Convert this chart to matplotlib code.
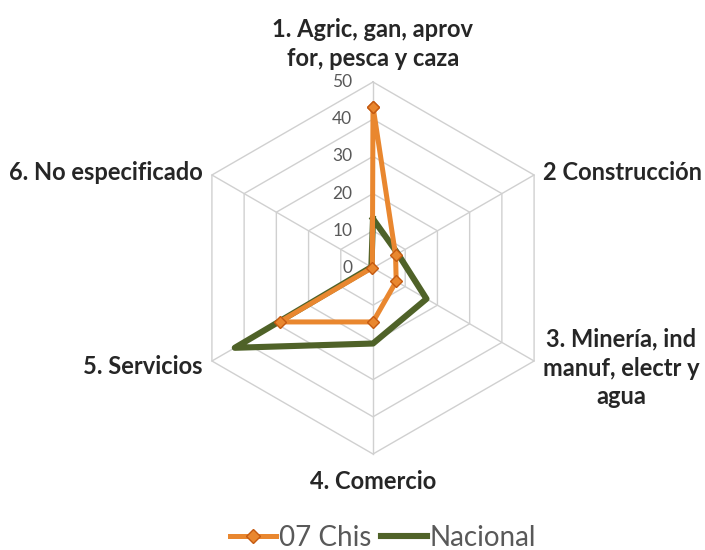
import numpy as np
import matplotlib.pyplot as plt
from matplotlib.lines import Line2D

# Datos (porcentaje por sector)
categorias = ["1. Agric, gan, aprov\nfor, pesca y caza", "2 Construcción",
              "3. Minería, ind\nmanuf, electr y\nagua", "4. Comercio",
              "5. Servicios", "6. No especificado"]
chis = [43.4, 7.0, 7.2, 14.5, 29.0, 0.2]
nacional = [13.2, 7.7, 16.6, 20.3, 42.9, 0.5]
niveles = [0, 10, 20, 30, 40, 50]

color_chis = "#E9872F"
color_nac = "#4F6228"
gris = "#D0D0D0"

plt.rcParams['font.family'] = ['Lato', 'DejaVu Sans']

fig = plt.figure(figsize=(7.05, 5.5), dpi=100)
# centro en (373, 268) px, radio 50 -> 186 px
escala = 186 / 50
ancho = 120 * escala
ax = fig.add_axes([(373 - ancho / 2) / 705, (282 - ancho / 2) / 550, ancho / 705, ancho / 550])
ax.set_xlim(-60, 60)
ax.set_ylim(-60, 60)
ax.axis('off')

n = len(categorias)
angulos = np.pi / 2 - np.arange(n) * 2 * np.pi / n
ux, uy = np.cos(angulos), np.sin(angulos)

def cerrar(a):
    return np.append(a, a[0])

# rejilla hexagonal
for r in niveles[1:]:
    ax.plot(cerrar(r * ux), cerrar(r * uy), color=gris, lw=1, zorder=1)
for i in range(n):
    ax.plot([0, 50 * ux[i]], [0, 50 * uy[i]], color=gris, lw=1, zorder=1)

# etiquetas del eje radial
for r in niveles:
    ax.text(-5.6, r, str(r), ha='right', va='center', fontsize=12.5, color='#595959')

# series
v = np.array(chis)
ax.plot(cerrar(v * ux), cerrar(v * uy), color=color_chis, lw=3.6, marker='D', ms=6.5,
        mfc=color_chis, mec='#C55A11', zorder=3, solid_joinstyle='round')
v = np.array(nacional)
ax.plot(cerrar(v * ux), cerrar(v * uy), color=color_nac, lw=4.4, zorder=2, solid_joinstyle='round')

# etiquetas de categorías
kw = dict(fontsize=17, fontweight='bold', color='#262626', linespacing=1.3, clip_on=False)
ax.text(0, 60.2, categorias[0], ha='center', va='center', **kw)
ax.text(45.7, 25.8, categorias[1], ha='left', va='center', **kw)
ax.text(66.7, -26.9, categorias[2], ha='center', va='center', **kw)
ax.text(0, -57.5, categorias[3], ha='center', va='center', **kw)
ax.text(-45.7, -26.6, categorias[4], ha='right', va='center', **kw)
ax.text(-45.7, 25.8, categorias[5], ha='right', va='center', **kw)

# leyenda
manejadores = [Line2D([], [], color=color_chis, lw=3.6, marker='D', ms=7, mec='#C55A11'),
               Line2D([], [], color=color_nac, lw=4.4)]
fig.legend(manejadores, ["07 Chis", "Nacional"], loc='center', bbox_to_anchor=(383 / 705, 1 - 538 / 550),
           ncol=2, frameon=False, fontsize=20, handlelength=1.65, handletextpad=0.1,
           columnspacing=0.35, borderpad=0, labelcolor='#595959')

fig.savefig("out.png", dpi=100)
